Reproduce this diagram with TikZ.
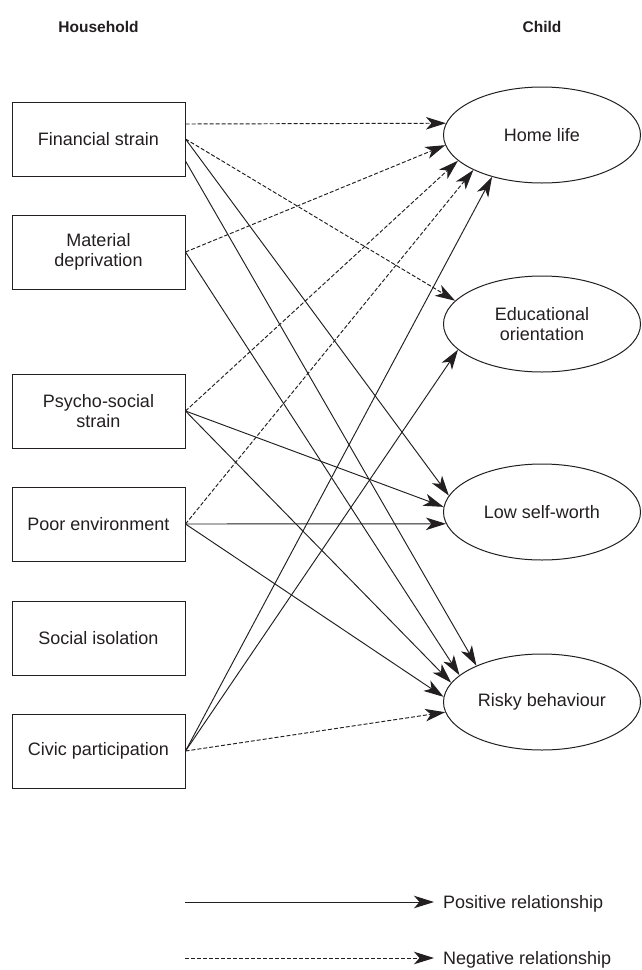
\documentclass[tikz,border=0pt]{standalone}
\usepackage{fontspec}
\setmainfont{Liberation Sans}
\usetikzlibrary{arrows.meta,shapes.geometric}
\definecolor{ink}{HTML}{231F20}
\begin{document}
\begin{tikzpicture}[x=1pt,y=-1pt,
  every node/.style={text=ink},
  box/.style={draw=ink, line width=1pt, minimum width=173pt, minimum height=74pt, inner sep=0pt, align=center, font=\fontsize{18}{19.5}\selectfont},
  ell/.style={draw=ink, line width=1pt, ellipse, minimum width=197pt, minimum height=96pt, inner sep=0pt, align=center, font=\fontsize{18}{19.5}\selectfont},
  hdr/.style={font=\fontsize{15.5}{17}\selectfont\bfseries},
  posarrow/.style={draw=ink, line width=0.95pt, -{Stealth[length=20pt,width=12.5pt,inset=5.5pt]}},
  negarrow/.style={posarrow, dash pattern=on 4pt off 2pt},
  legtext/.style={anchor=base west, inner sep=0pt, font=\fontsize{18}{19.5}\selectfont}]
\useasboundingbox (0,0) rectangle (641,970);

% headers
\node[hdr] (hh) at (98.5,27) {Household};
\node[hdr] (ch) at (542,27) {Child};

% household boxes
\node[box] (fs) at (98.5,139) {Financial strain};
\node[box] (md) at (98.5,252) {Material\\deprivation};
\node[box] (ps) at (98.5,411) {Psycho-social\\strain};
\node[box] (pe) at (98.5,524) {Poor environment};
\node[box] (si) at (98.5,638) {Social isolation};
\node[box] (cp) at (98.5,751) {Civic participation};

% child ellipses
\node[ell] (hl) at (542,135) {Home life};
\node[ell] (eo) at (542,324) {Educational\\orientation};
\node[ell] (lsw) at (542,512) {Low self-worth};
\node[ell] (rb) at (542,702) {Risky behaviour};

% Financial strain
\draw[negarrow] ([yshift=15pt]fs.east) -- (hl.173);
\draw[negarrow] (fs.east) -- (eo.165);
\draw[posarrow] (fs.east) -- (lsw.170);
\draw[posarrow] ([yshift=-22pt]fs.east) -- (rb.151);
% Material deprivation
\draw[negarrow] (md.east) -- (hl.186);
\draw[posarrow] (md.east) -- (rb.162);
% Psycho-social strain
\draw[negarrow] (ps.east) -- (hl.197);
\draw[posarrow] (ps.east) -- (lsw.177);
\draw[posarrow] (ps.east) -- (rb.168);
% Poor environment
\draw[negarrow] (pe.east) -- (hl.207);
\draw[posarrow] (pe.east) -- (lsw.187);
\draw[posarrow] (pe.east) -- (rb.177);
% Civic participation
\draw[posarrow] (cp.east) -- (hl.220);
\draw[posarrow] (cp.east) -- (eo.197);
\draw[negarrow] (cp.east) -- (rb.186);

% legend
\coordinate (l1a) at (185,902);
\coordinate (l1b) at (434,902);
\node[legtext] (l1t) at (443,908.5) {Positive relationship};
\draw[posarrow] (l1a) -- (l1b);
\coordinate (l2a) at (185,958);
\coordinate (l2b) at (434,958);
\node[legtext] (l2t) at (443,964.5) {Negative relationship};
\draw[negarrow] (l2a) -- (l2b);
\end{tikzpicture}
\end{document}
